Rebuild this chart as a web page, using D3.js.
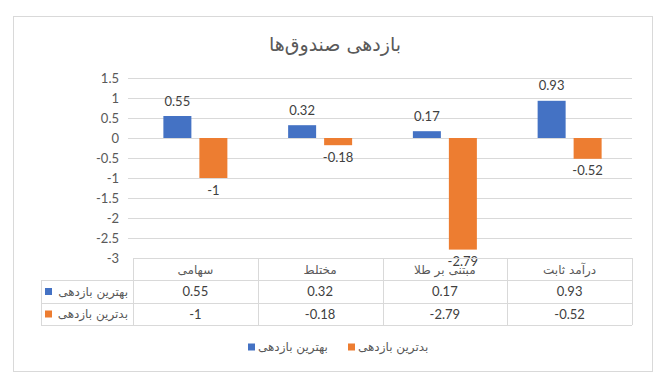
<!DOCTYPE html>
<html>
<head>
<meta charset="utf-8">
<script src="https://cdn.jsdelivr.net/npm/d3@7"></script>
<style>
  body { margin: 0; background: #fff; }
  svg { display: block; font-family: Lato, "DejaVu Sans", sans-serif; }
</style>
</head>
<body>
<div class="chart-box"></div>
<script>
var categories = ["سهامی", "مختلط", "مبتنی بر طلا", "درآمد ثابت"];
var series_names = ["بهترین بازدهی", "بدترین بازدهی"];
var best_values = [0.55, 0.32, 0.17, 0.93];
var worst_values = [-1, -0.18, -2.79, -0.52];
var y_ticks = [1.5, 1, 0.5, 0, -0.5, -1, -1.5, -2, -2.5, -3];
var colors = ["#4472C4", "#ED7D31"];
var title_text = "بازدهی صندوق‌ها";

var W = 670, H = 387;
var plot_left = 133, plot_right = 632;
var plot_top = 78, plot_bottom = 258;

var svg = d3.select(".chart-box").append("svg")
    .attr("width", W)
    .attr("height", H);

svg.append("rect").attr("width", W).attr("height", H).attr("fill", "#fff");

// outer frame
svg.append("rect")
    .attr("x", 13.5).attr("y", 16.5)
    .attr("width", 639).attr("height", 355)
    .attr("fill", "none").attr("stroke", "#d9d9d9");

svg.append("text")
    .attr("x", 335).attr("y", 51)
    .attr("text-anchor", "middle")
    .attr("fill", "#595959")
    .style("font-family", "'DejaVu Sans'")
    .style("font-size", "19px")
    .text(title_text);

var x0 = d3.scaleBand()
    .domain(categories)
    .range([plot_left, plot_right]);
var x1 = d3.scaleBand()
    .domain(series_names)
    .range([0, x0.bandwidth()])
    .paddingInner(0.222)
    .paddingOuter(0.844);
var y = d3.scaleLinear()
    .domain([-3, 1.5])
    .range([plot_bottom, plot_top]);

// gridlines
svg.append("g").selectAll("line")
    .data(y_ticks.filter(function(d) { return d !== -3; }))
  .enter().append("line")
    .attr("x1", 128).attr("x2", plot_right)
    .attr("y1", function(d) { return Math.round(y(d)) + 0.5; })
    .attr("y2", function(d) { return Math.round(y(d)) + 0.5; })
    .attr("stroke", "#d9d9d9");

// y tick labels
svg.append("g").selectAll("text")
    .data(y_ticks)
  .enter().append("text")
    .attr("x", 119)
    .attr("y", function(d) { return y(d); })
    .attr("dy", "0.35em")
    .attr("text-anchor", "end")
    .attr("fill", "#595959")
    .style("font-size", "13px")
    .text(function(d) { return d; });

var rows = categories.map(function(c, i) {
  return {cat: c, vals: [best_values[i], worst_values[i]]};
});

var groups = svg.append("g").selectAll("g")
    .data(rows)
  .enter().append("g")
    .attr("transform", function(d) { return "translate(" + x0(d.cat) + ",0)"; });

groups.selectAll("rect")
    .data(function(d) { return d.vals.map(function(v, j) { return {s: series_names[j], v: v, j: j}; }); })
  .enter().append("rect")
    .attr("x", function(d) { return x1(d.s); })
    .attr("width", x1.bandwidth())
    .attr("y", function(d) { return y(Math.max(0, d.v)); })
    .attr("height", function(d) { return Math.abs(y(d.v) - y(0)); })
    .attr("fill", function(d) { return colors[d.j]; });

groups.selectAll("text")
    .data(function(d) { return d.vals.map(function(v, j) { return {s: series_names[j], v: v, j: j}; }); })
  .enter().append("text")
    .attr("x", function(d) { return x1(d.s) + x1.bandwidth() / 2; })
    .attr("y", function(d) { return d.v >= 0 ? y(d.v) - 15 : y(d.v) + 12; })
    .attr("dy", "0.35em")
    .attr("text-anchor", "middle")
    .attr("fill", "#404040")
    .style("font-size", "13px")
    .text(function(d) { return d.v; });

// data table
var row_y = [258, 280, 303, 325];
var tbl = svg.append("g").attr("stroke", "#d9d9d9").attr("fill", "none");
tbl.append("line").attr("x1", plot_left).attr("x2", plot_right)
    .attr("y1", row_y[0] + 0.5).attr("y2", row_y[0] + 0.5);
row_y.slice(1).forEach(function(ry) {
  tbl.append("line").attr("x1", 41).attr("x2", plot_right)
      .attr("y1", ry + 0.5).attr("y2", ry + 0.5);
});
x0.domain().forEach(function(c) {
  tbl.append("line").attr("x1", Math.round(x0(c)) + 0.5).attr("x2", Math.round(x0(c)) + 0.5)
      .attr("y1", row_y[0]).attr("y2", row_y[3]);
});
tbl.append("line").attr("x1", plot_right + 0.5).attr("x2", plot_right + 0.5)
    .attr("y1", row_y[0]).attr("y2", row_y[3]);
tbl.append("line").attr("x1", 41.5).attr("x2", 41.5)
    .attr("y1", row_y[1]).attr("y2", row_y[3]);

svg.append("g").selectAll("text")
    .data(categories)
  .enter().append("text")
    .attr("x", function(d) { return x0(d) + x0.bandwidth() / 2; })
    .attr("y", 270)
    .attr("dy", "0.35em")
    .attr("text-anchor", "middle")
    .attr("fill", "#595959")
    .style("font-family", "'DejaVu Sans'")
    .style("font-size", "12px")
    .text(function(d) { return d; });

[best_values, worst_values].forEach(function(vals, j) {
  var cy = (row_y[j + 1] + row_y[j + 2]) / 2;
  svg.append("g").selectAll("text")
      .data(vals)
    .enter().append("text")
      .attr("x", function(d, i) { return x0(categories[i]) + x0.bandwidth() / 2; })
      .attr("y", cy)
      .attr("dy", "0.35em")
      .attr("text-anchor", "middle")
      .attr("fill", "#404040")
      .style("font-size", "13px")
      .text(function(d) { return d; });
  svg.append("rect")
      .attr("x", 45).attr("y", cy - 3.5)
      .attr("width", 7).attr("height", 7)
      .attr("fill", colors[j]);
  svg.append("text")
      .attr("x", 128).attr("y", cy)
      .attr("dy", "0.35em")
      .attr("text-anchor", "end")
      .attr("fill", "#595959")
      .style("font-family", "'DejaVu Sans'")
      .style("font-size", "12px")
      .text(series_names[j]);
});

// legend
var legend_x = [248, 348];
series_names.forEach(function(s, j) {
  svg.append("rect")
      .attr("x", legend_x[j]).attr("y", 343.5)
      .attr("width", 7).attr("height", 7)
      .attr("fill", colors[j]);
  svg.append("text")
      .attr("x", legend_x[j] + 10).attr("y", 347)
      .attr("dy", "0.35em")
      .attr("fill", "#595959")
      .style("font-family", "'DejaVu Sans'")
      .style("font-size", "12px")
      .attr("text-anchor", "start")
      .attr("direction", "ltr")
      .text(s);
});
</script>
</body>
</html>
